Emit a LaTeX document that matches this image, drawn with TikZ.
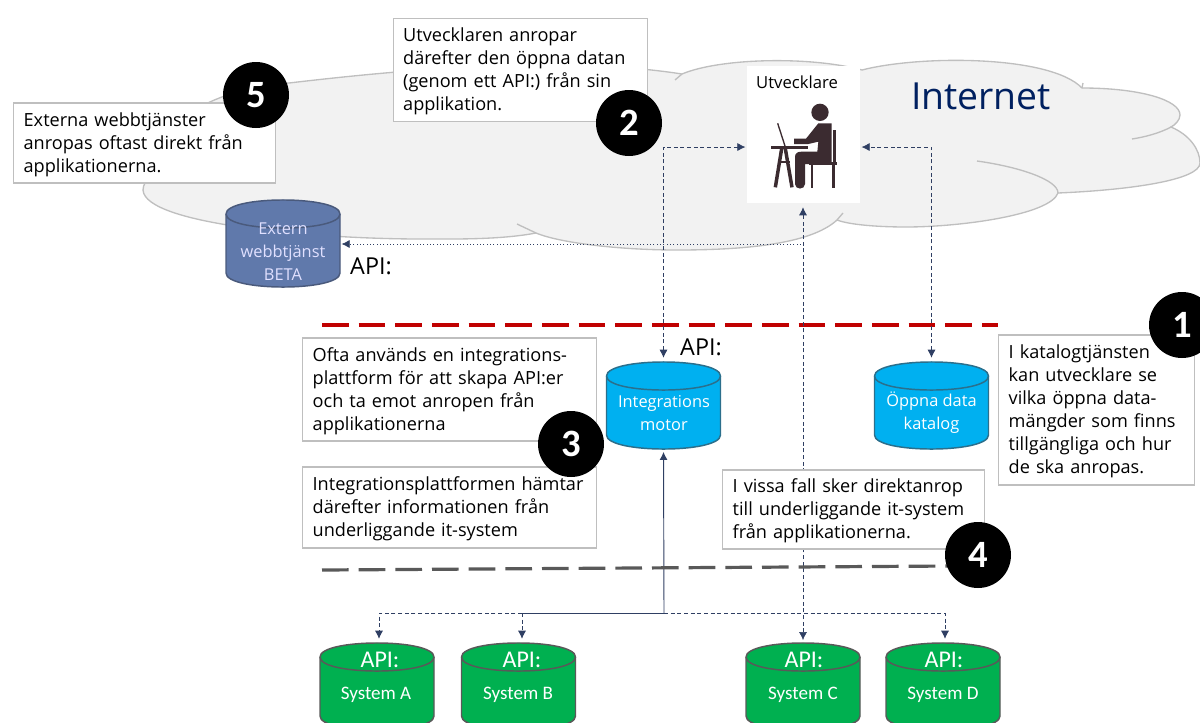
\documentclass[tikz,border=0pt]{standalone}
\usepackage{fontspec}
\setmainfont{Open Sans}
\newfontfamily\calib{Carlito}
\usetikzlibrary{arrows.meta}
\definecolor{cloudfill}{HTML}{F2F2F2}
\definecolor{cloudline}{HTML}{BFBFBF}
\definecolor{conn}{HTML}{2F3F63}
\definecolor{person}{HTML}{3B2B30}
\definecolor{navy}{HTML}{002060}
\definecolor{extfill}{HTML}{6079AB}
\definecolor{extline}{HTML}{4A5A7C}
\definecolor{cyanfill}{HTML}{00B0F0}
\definecolor{cyanline}{HTML}{2B6F8C}
\definecolor{greenfill}{HTML}{00B050}
\definecolor{greenline}{HTML}{595959}
\definecolor{darkred}{HTML}{C00000}
\definecolor{sepgray}{HTML}{595959}
\tikzset{
 infobox/.style={draw=cloudline,line width=1pt,fill=white,anchor=west,align=left,inner xsep=7.5pt,inner ysep=0pt,font=\fontsize{13.6pt}{17.25pt}\selectfont,execute at begin node={\rule{0pt}{13pt}}},
 badge/.style={circle,fill=black,text=white,minimum size=49.5pt,inner sep=0pt,font=\calib\fontsize{29pt}{29pt}\selectfont\bfseries},
 link/.style={draw=conn,line width=0.5pt,densely dashed},
 tip/.style={-{Latex[length=6pt,width=6pt]}},
 bothtip/.style={{Latex[length=6pt,width=6pt]}-{Latex[length=6pt,width=6pt]}},
 cyltext/.style={text=white,align=center,inner sep=0pt,font=\fontsize{12.3pt}{17.25pt}\selectfont},
 apitext/.style={text=black,inner sep=0pt,font=\fontsize{17.5pt}{18pt}\selectfont},
 sysapi/.style={text=white,inner sep=0pt,font=\calib\fontsize{18pt}{18pt}\selectfont},
 sysname/.style={text=white,inner sep=0pt,font=\calib\fontsize{14.3pt}{16pt}\selectfont},
 sep/.style={line width=2.4pt,dash pattern=on 20pt off 7.5pt},
 drumbase/.style={inner sep=0pt,minimum width=85.5pt,minimum height=65.25pt}
}
% name, centre x, centre y, fill, line
\newcommand{\drum}[5]{%
 \node[drumbase] (#1) at (#2,#3) {};
 \begin{scope}[shift={(#2,#3)}]
  \draw[fill=#4,draw=#5,line width=1.1pt] (-57,-29.5) .. controls (-57,-48.2) and (57,-48.2) .. (57,-29.5) -- (57,29.5) .. controls (57,48.2) and (-57,48.2) .. (-57,29.5) -- cycle;
  \draw[draw=#5,line width=1.1pt] (-57,-29.5) .. controls (-57,-10.8) and (57,-10.8) .. (57,-29.5);
 \end{scope}}
\begin{document}
\begin{tikzpicture}[x=0.75pt,y=-0.75pt]
\useasboundingbox (0,0) rectangle (1200,722);
\clip (0,0) rectangle (1200,722);
% cloud
\draw[fill=cloudfill,draw=cloudline,line width=1pt]
 (145,183) .. controls (130,160) and (180,90) .. (289,83)
 .. controls (400,70) and (560,55) .. (682,74)
 .. controls (720,58) and (810,56) .. (862,70)
 .. controls (920,55) and (1050,55) .. (1082,88)
 .. controls (1140,88) and (1180,100) .. (1180,115)
 .. controls (1180,120) and (1175,125) .. (1171,127)
 .. controls (1190,135) and (1200,150) .. (1200,163)
 .. controls (1200,180) and (1130,190) .. (1058,193)
 .. controls (1050,215) and (960,227) .. (906,227)
 .. controls (880,227) and (850,225) .. (837,220)
 .. controls (810,245) and (740,250) .. (677,250)
 .. controls (620,250) and (560,243) .. (536,233)
 .. controls (500,240) and (450,239) .. (421,239)
 .. controls (320,239) and (145,225) .. (143,190)
 .. controls (143,187) and (144,185) .. (145,183) -- cycle;
\draw[draw=cloudline,line width=1pt]
 (675,80) -- (682,74)
 (1082,88) -- (1083,83)
 (1171,127) .. controls (1160,133) and (1145,137) .. (1132,139)
 (977,161) .. controls (1020,167) and (1058,180) .. (1058,193)
 (837,220) -- (843,213)
 (517,224) -- (536,233);
\node[text=navy,inner sep=0pt,font=\fontsize{28pt}{30pt}\selectfont] (internet) at (981,96) {Internet};
% developer
\node[fill=white,minimum width=84.75pt,minimum height=102.75pt,inner sep=0pt] (dev) at (803.5,134.5) {};
\node[inner sep=0pt,font=\fontsize{12.5pt}{13pt}\selectfont] (devlabel) at (797,82) {Utvecklare};
\begin{scope}[shift={(730,60)},scale=1/3]
 \fill[person] (270,157) circle (26);
 \fill[person] (265,190) -- (305,190) -- (305,312) -- (225,312) -- (225,372) .. controls (225,390) and (195,390) .. (195,372) -- (195,290) .. controls (195,278) and (205,275) .. (215,275) -- (262,275) -- (265,245) -- (235,252) -- (192,252) -- (192,236) -- (228,236) -- cycle;
 \fill[person] (308,210) -- (318,210) -- (318,305) -- (308,305) -- cycle;
 \fill[person] (237,305) -- (320,305) -- (320,315) -- (237,315) -- cycle;
 \fill[person] (242,315) -- (250,315) -- (250,383) -- (242,383) -- cycle;
 \fill[person] (306,315) -- (314,315) -- (314,383) -- (306,383) -- cycle;
 \fill[person] (123,258) -- (235,258) -- (235,266) -- (123,266) -- cycle;
 \draw[person,line width=2.6pt] (155,266) -- (136,382);
 \draw[person,line width=2.6pt] (166,266) -- (186,382);
 \draw[person,line width=2.2pt] (143,306) -- (179,306);
 \draw[person,line width=1pt] (143,190) -- (165,258);
\end{scope}
% drums
\drum{extern}{283}{243.5}{extfill}{extline}
\drum{integ}{663.5}{405.5}{cyanfill}{cyanline}
\drum{oppna}{931.5}{405.5}{cyanfill}{cyanline}
\drum{sysa}{377}{686.5}{greenfill}{greenline}
\drum{sysb}{518.5}{686.5}{greenfill}{greenline}
\drum{sysc}{803}{686.5}{greenfill}{greenline}
\drum{sysd}{943}{686.5}{greenfill}{greenline}
\node[cyltext,text=white!88!blue] (externt) at (283,252) {Extern\\webbtjänst\\BETA};
\node[cyltext] (integt) at (664,413) {Integrations\\motor};
\node[cyltext] (oppnat) at (931.5,413) {Öppna data\\katalog};
\node[sysapi] (apia) at (380,660) {API:};
\node[sysapi] (apib) at (522,660) {API:};
\node[sysapi] (apic) at (804,660) {API:};
\node[sysapi] (apid) at (944,660) {API:};
\node[sysname] (namea) at (376,695) {System A};
\node[sysname] (nameb) at (518,695) {System B};
\node[sysname] (namec) at (803,695) {System C};
\node[sysname] (named) at (943,695) {System D};
% API labels
\node[apitext] (apiext) at (371,266) {API:};
\node[apitext] (apiint) at (701,347) {API:};
% separators
\draw[sep,draw=darkred] (322,325) -- (998,325);
% connectors
\coordinate (bus) at (664,613);
\coordinate (busb) at (522,613);
\draw[link,bothtip,shorten >=1pt,shorten <=3pt] (integ.north) |- ([yshift=-9.4pt]dev.west);
\draw[link,bothtip,shorten >=1pt,shorten <=3pt] (oppna.north) |- ([yshift=-9.4pt]dev.east);
\draw[link,bothtip,shorten >=3pt,shorten <=2pt] (sysc.north) -- (dev.south -| sysc.north);
\draw[link,dotted,tip,shorten >=1pt] (804,244) -- (extern.east |- 804,244);
\draw[draw=conn,line width=0.7pt,-{Latex[length=6pt,width=6pt]},shorten >=2pt] (bus) -- (integ.south);
\draw[draw=conn,line width=0.7pt] (bus) -- (busb);
\draw[link,tip,shorten >=3pt] (busb) -| (sysa.north -| 379,0);
\draw[link,tip,shorten >=3pt] (busb) -- (busb |- sysb.north);
\draw[link,tip,shorten >=3pt] (bus) -| (sysd.north -| 945,0);
\draw[sep,draw=sepgray] (322,570) -- (950,566);
% boxes
\node[infobox,text width=181.5pt,minimum height=60pt] (box5) at (13,143) {Externa webbtjänster\\anropas oftast direkt från\\applikationerna.};
\node[infobox,text width=175.5pt,minimum height=77.5pt] (box2) at (392.5,70) {Utvecklaren anropar\\därefter den öppna datan\\(genom ett API:) från sin\\applikation.};
\node[infobox,text width=205.5pt,minimum height=77.25pt] (box3a) at (302,389.5) {Ofta används en integrations-\\plattform för att skapa API:er\\och ta emot anropen från\\applikationerna};
\node[infobox,text width=205.5pt,minimum height=60.75pt] (box3b) at (302,507.5) {Integrationsplattformen hämtar\\därefter informationen från\\underliggande it-system};
\node[infobox,text width=181.5pt,minimum height=59.25pt] (box4) at (722,509.5) {I vissa fall sker direktanrop\\till underliggande it-system\\från applikationerna.};
\node[infobox,text width=132pt,minimum height=112.5pt] (box1) at (998,410) {I katalogtjänsten\\kan utvecklare se\\vilka öppna data-\\mängder som finns\\tillgängliga och hur\\de ska anropas.};
% badges
\node[badge] (b5) at (256,95) {5};
\node[badge] (b2) at (629,123) {2};
\node[badge] (b3) at (571,444) {3};
\node[badge] (b4) at (978,555) {4};
\node[badge] (b1) at (1182,325) {1};
\end{tikzpicture}
\end{document}
